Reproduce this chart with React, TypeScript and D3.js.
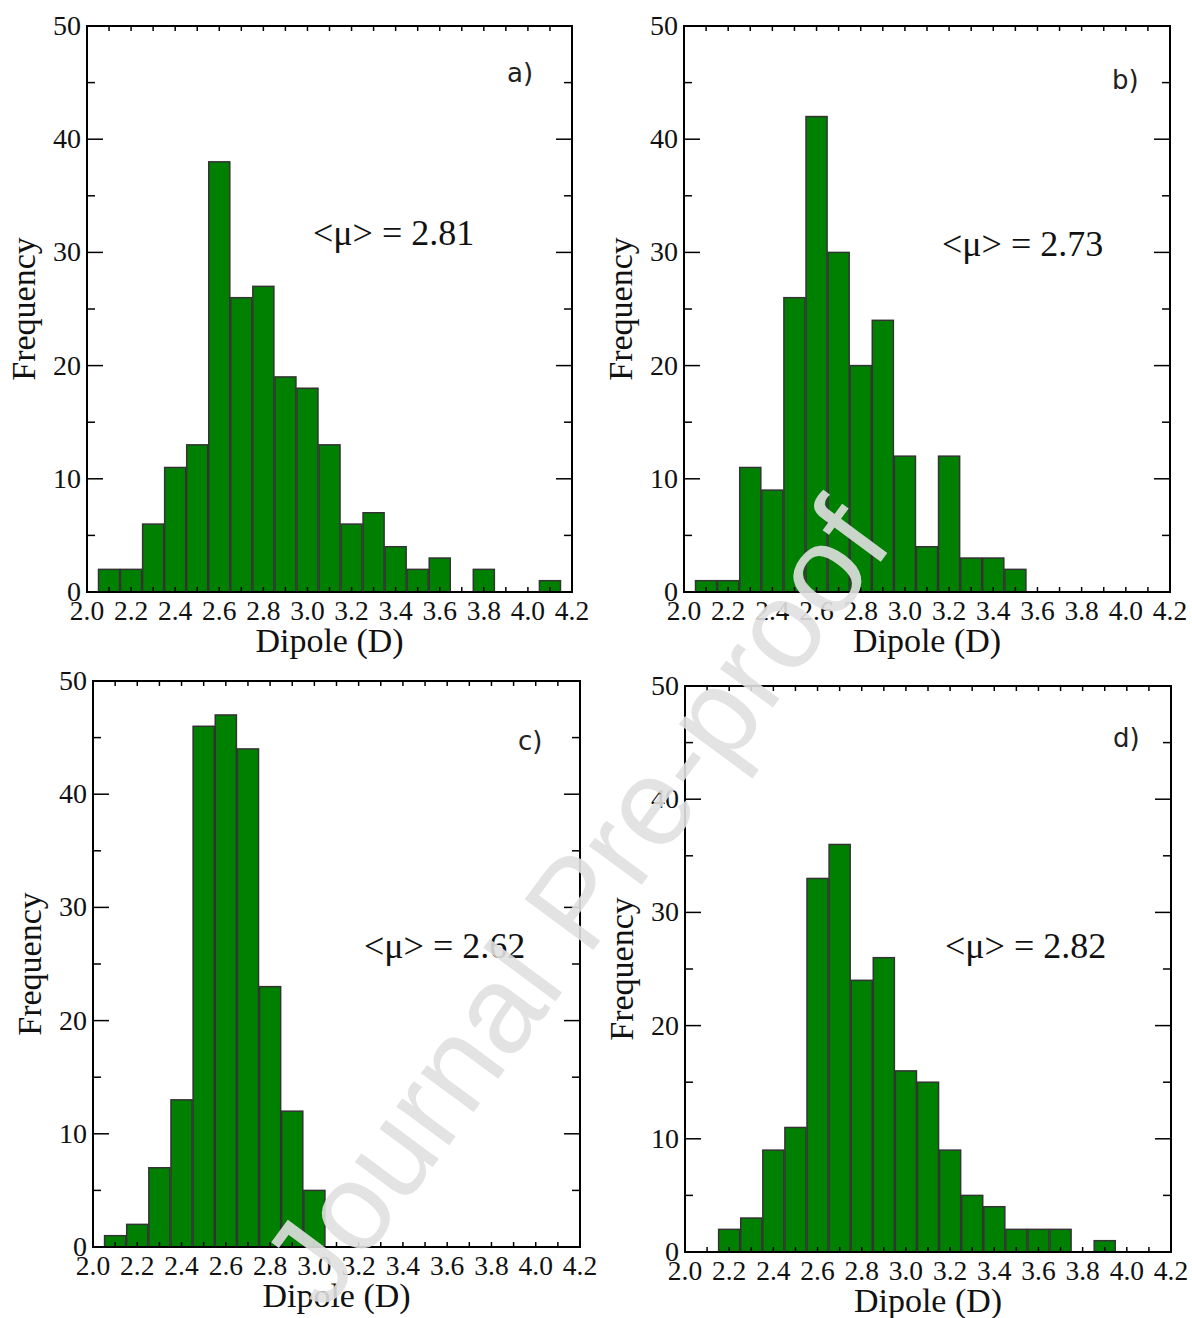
import React from "react";
import * as d3 from "d3";

// Bin centres start at 2.1 D with 0.1 D spacing
const binStart = 2.1;
const binWidth = 0.1;

const countsA = [2, 2, 6, 11, 13, 38, 26, 27, 19, 18, 13, 6, 7, 4, 2, 3, 0, 2, 0, 0, 1];
const countsB = [1, 1, 11, 9, 26, 42, 30, 20, 24, 12, 4, 12, 3, 3, 2];
const countsC = [1, 2, 7, 13, 46, 47, 44, 23, 12, 5];
const countsD = [0, 2, 3, 9, 11, 33, 36, 24, 26, 16, 15, 9, 5, 4, 2, 2, 2, 0, 1];

const panelLabels = ["a)", "b)", "c)", "d)"];
const meanValues = ["2.81", "2.73", "2.62", "2.82"];

const xTickLabels = [2.0, 2.2, 2.4, 2.6, 2.8, 3.0, 3.2, 3.4, 3.6, 3.8, 4.0, 4.2];
const yTickLabels = [0, 10, 20, 30, 40, 50];

const serif = "'Liberation Serif', 'Times New Roman', serif";
const sans = "'DejaVu Sans', sans-serif";

type Layout = {
  x0: number; x1: number; y0: number; y1: number;
  meanX: number; meanY: number; labX: number; labY: number;
};

const layouts: Layout[] = [
  { x0: 87, x1: 572, y0: 26, y1: 592, meanX: 313, meanY: 245, labX: 507, labY: 82 },
  { x0: 684, x1: 1170, y0: 26, y1: 592, meanX: 942, meanY: 256, labX: 1112, labY: 89 },
  { x0: 93, x1: 580, y0: 681, y1: 1247, meanX: 364, meanY: 958, labX: 518, labY: 750 },
  { x0: 685, x1: 1171, y0: 686, y1: 1252, meanX: 945, meanY: 958, labX: 1113, labY: 747 },
];

const allCounts = [countsA, countsB, countsC, countsD];

function Panel({ counts, L, label, mean }: { counts: number[]; L: Layout; label: string; mean: string }) {
  const x = d3.scaleLinear().domain([2.0, 4.2]).range([L.x0, L.x1]);
  const y = d3.scaleLinear().domain([0, 50]).range([L.y1, L.y0]);
  const minorX = d3.range(21).map((i) => 2.1 + i * 0.1);
  const minorY = [5, 15, 25, 35, 45];
  const majorY = [10, 20, 30, 40];
  const bw = binWidth * 0.955;
  return (
    <g>
      {counts.map((c, i) => {
        if (c <= 0) return null;
        const cx = binStart + i * binWidth;
        return (
          <rect
            key={i}
            x={x(cx - bw / 2)}
            y={y(c)}
            width={x(cx + bw / 2) - x(cx - bw / 2)}
            height={y(0) - y(c)}
            fill="#008000"
            stroke="#333"
            strokeWidth={1.5}
          />
        );
      })}
      {/* x ticks (inward, top & bottom) */}
      {minorX.map((v, i) => (
        <g key={"xt" + i}>
          <line x1={x(v)} x2={x(v)} y1={L.y1} y2={L.y1 - 5} stroke="#000" strokeWidth={1.5} />
          <line x1={x(v)} x2={x(v)} y1={L.y0} y2={L.y0 + 5} stroke="#000" strokeWidth={1.5} />
        </g>
      ))}
      {majorY.map((v, i) => (
        <g key={"ym" + i}>
          <line x1={L.x0} x2={L.x0 + 16} y1={y(v)} y2={y(v)} stroke="#000" strokeWidth={1.5} />
          <line x1={L.x1} x2={L.x1 - 16} y1={y(v)} y2={y(v)} stroke="#000" strokeWidth={1.5} />
        </g>
      ))}
      {minorY.map((v, i) => (
        <g key={"yn" + i}>
          <line x1={L.x0} x2={L.x0 + 8} y1={y(v)} y2={y(v)} stroke="#000" strokeWidth={1.5} />
          <line x1={L.x1} x2={L.x1 - 8} y1={y(v)} y2={y(v)} stroke="#000" strokeWidth={1.5} />
        </g>
      ))}
      <rect x={L.x0} y={L.y0} width={L.x1 - L.x0} height={L.y1 - L.y0} fill="none" stroke="#000" strokeWidth={2} />
      {xTickLabels.map((v, i) => (
        <text key={"xl" + i} x={x(v)} y={L.y1 + 28} textAnchor="middle" fontFamily={serif} fontSize={27.5} fill="#111">
          {v.toFixed(1)}
        </text>
      ))}
      {yTickLabels.map((v, i) => (
        <text key={"yl" + i} x={L.x0 - 6} y={y(v) + 9} textAnchor="end" fontFamily={serif} fontSize={28} fill="#111">
          {v}
        </text>
      ))}
      <text x={(L.x0 + L.x1) / 2} y={L.y1 + 60} textAnchor="middle" fontFamily={serif} fontSize={34} fill="#111">
        Dipole (D)
      </text>
      <text
        transform={`translate(${L.x0 - 52},${(L.y0 + L.y1) / 2}) rotate(-90)`}
        textAnchor="middle"
        fontFamily={serif}
        fontSize={34}
        fill="#111"
      >
        Frequency
      </text>
      <text x={L.meanX} y={L.meanY} fontFamily={serif} fontSize={36} fill="#111">
        {"<μ> = " + mean}
      </text>
      <text x={L.labX} y={L.labY} fontFamily={sans} fontSize={26} fill="#222">
        {label}
      </text>
    </g>
  );
}

export default function App() {
  return (
    <svg
      width={1192}
      height={1318}
      style={{ position: "absolute", left: 0, top: 0, background: "#fff" }}
    >
      <rect width={1192} height={1318} fill="#fff" />
      {layouts.map((L, i) => (
        <Panel key={i} counts={allCounts[i]} L={L} label={panelLabels[i]} mean={meanValues[i]} />
      ))}
      <text
        transform="translate(575,902) rotate(-53.5)"
        textAnchor="middle"
        dy="0.35em"
        fontFamily="'Liberation Sans', Arial, sans-serif"
        fontSize={124}
        fill="#e0e0e0"
        opacity={0.9}
      >
        Journal Pre-proof
      </text>
    </svg>
  );
}
